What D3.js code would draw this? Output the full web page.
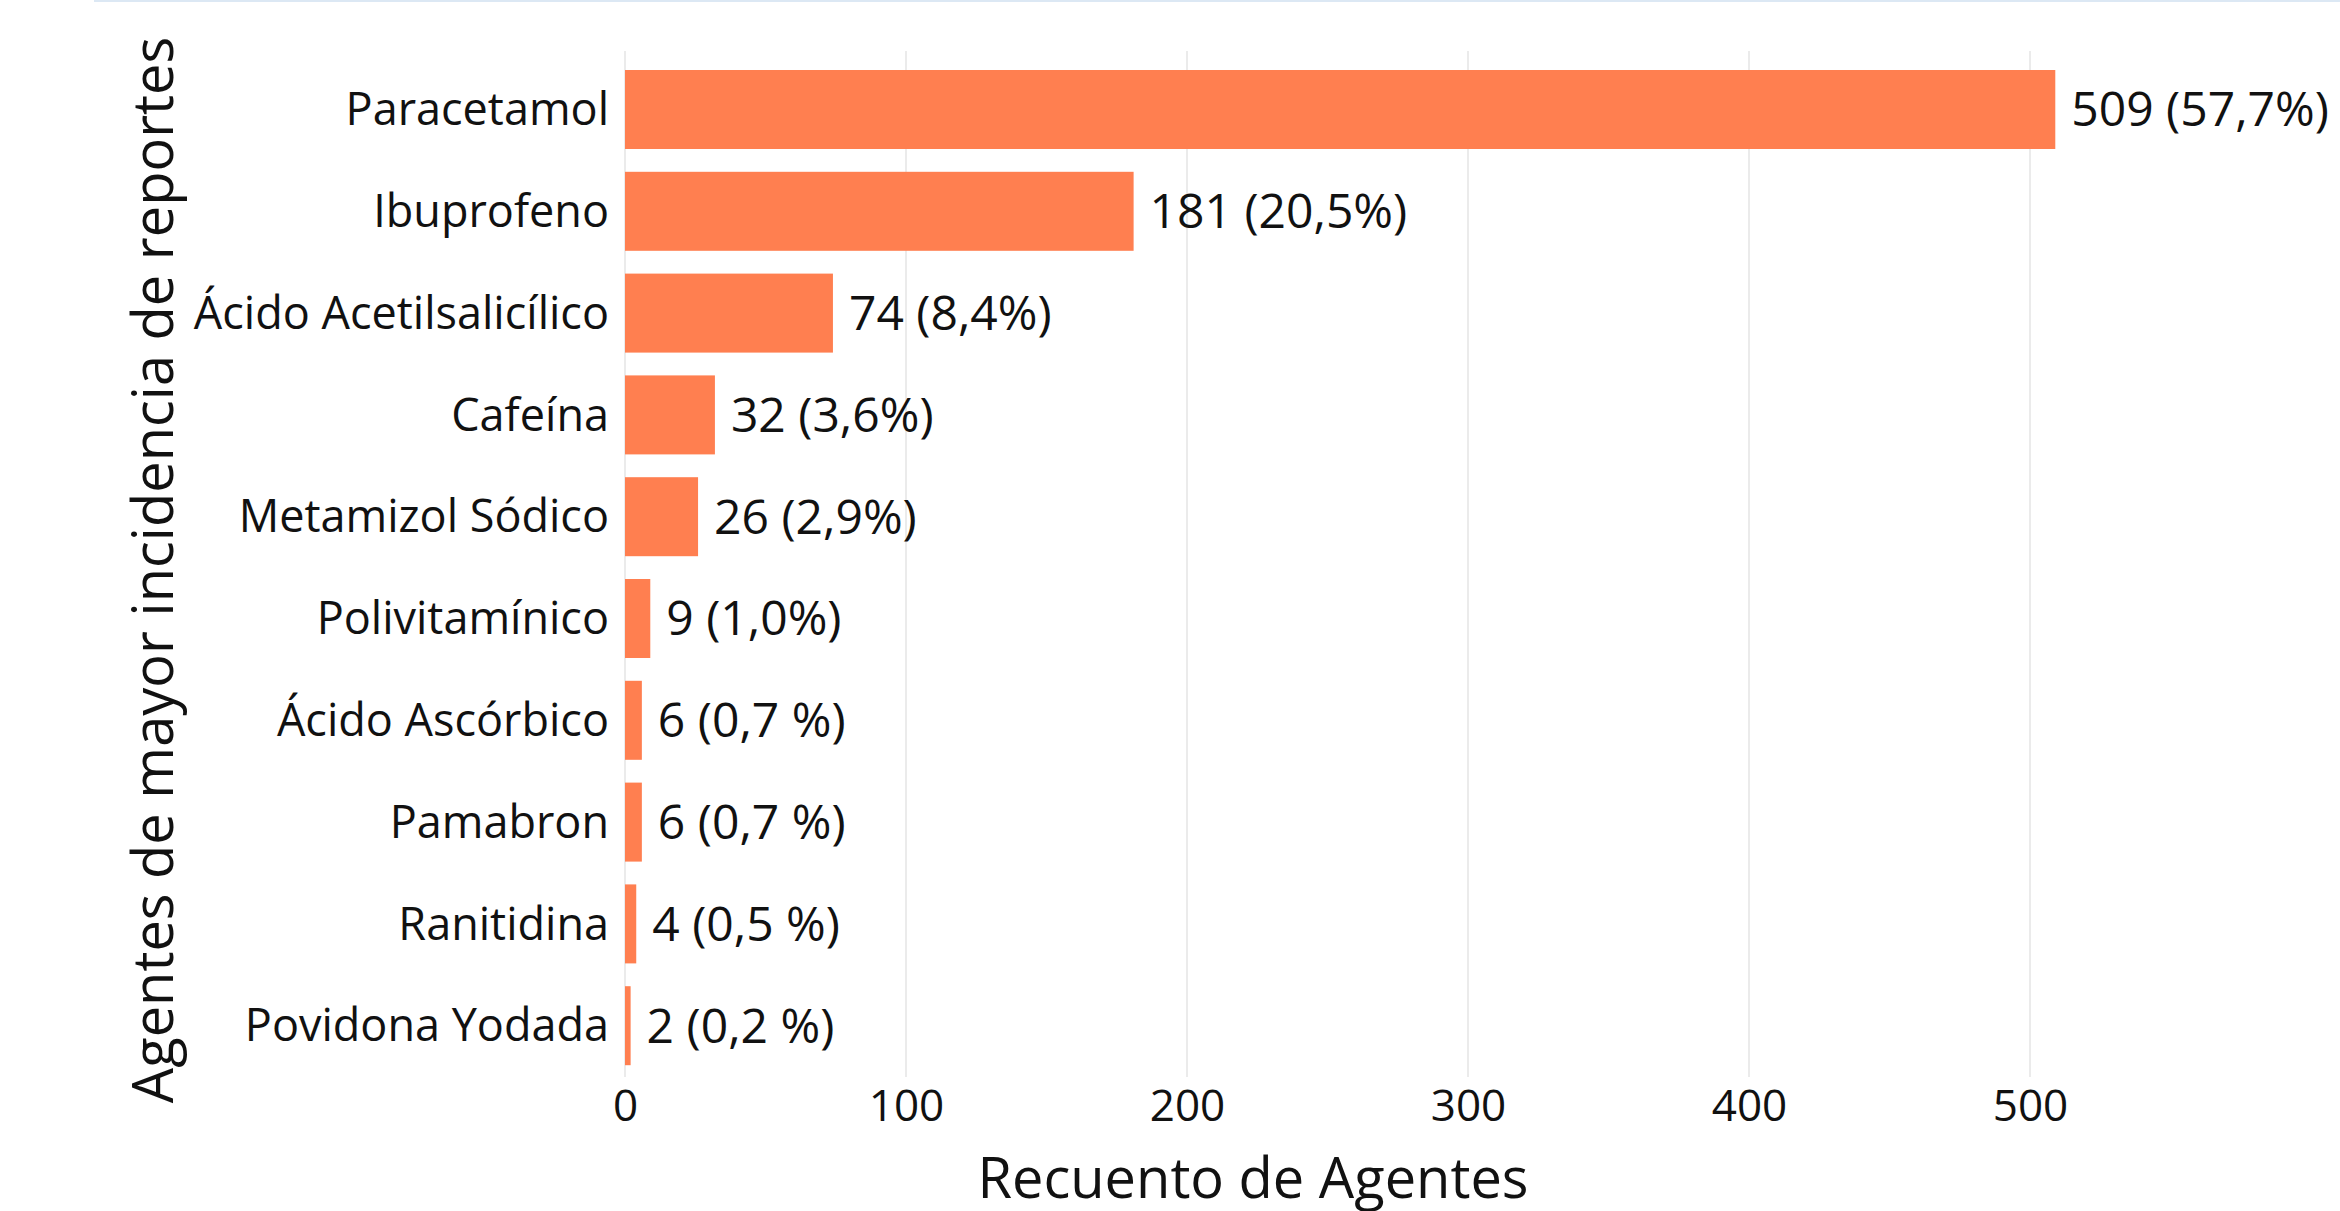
<!DOCTYPE html>
<html>
<head>
<meta charset="utf-8">
<script src="https://cdn.jsdelivr.net/npm/d3@7"></script>
<style>
  body { margin: 0; background: #fff; }
  svg { display: block; }
</style>
</head>
<body>
<div id="chart"></div>
<script>
// data
var agentes = ["Paracetamol", "Ibuprofeno", "Ácido Acetilsalicílico", "Cafeína", "Metamizol Sódico",
               "Polivitamínico", "Ácido Ascórbico", "Pamabron", "Ranitidina", "Povidona Yodada"];
var recuentos = [509, 181, 74, 32, 26, 9, 6, 6, 4, 2];
var etiquetas = ["509 (57,7%)", "181 (20,5%)", "74 (8,4%)", "32 (3,6%)", "26 (2,9%)",
                 "9 (1,0%)", "6 (0,7 %)", "6 (0,7 %)", "4 (0,5 %)", "2 (0,2 %)"];
var ticksX = [0, 100, 200, 300, 400, 500];

var W = 2340, H = 1211;
var font = "'Open Sans', 'Noto Sans', sans-serif";

var data = agentes.map(function(a, i) {
  return { agente: a, n: recuentos[i], label: etiquetas[i] };
});

var svg = d3.select("#chart").append("svg")
  .attr("width", W)
  .attr("height", H);

// thin light line at very top
svg.append("line")
  .attr("x1", 94).attr("x2", W)
  .attr("y1", 1).attr("y2", 1)
  .attr("stroke", "#dce8f4")
  .attr("stroke-width", 2);

var xScale = d3.scaleLinear()
  .domain([0, 500])
  .range([625, 2030]);

var yScale = d3.scaleBand()
  .domain(agentes)
  .range([58.6, 1076.6])
  .paddingInner(0.224)
  .paddingOuter(0.112);

var gridTop = 51, gridBottom = 1077;

// grid
svg.append("g")
  .selectAll("line")
  .data(ticksX)
  .enter().append("line")
    .attr("x1", function(d) { return xScale(d); })
    .attr("x2", function(d) { return xScale(d); })
    .attr("y1", gridTop)
    .attr("y2", gridBottom)
    .attr("stroke", "#ebebeb")
    .attr("stroke-width", 2);

// axis-x (labels only)
var xAxis = svg.append("g")
  .attr("transform", "translate(0," + gridBottom + ")")
  .call(d3.axisBottom(xScale).tickValues(ticksX).tickSize(0).tickPadding(0).tickFormat(d3.format("d")));
xAxis.select(".domain").remove();
xAxis.selectAll("text")
  .attr("y", 44)
  .attr("dy", 0)
  .style("font-family", font)
  .style("font-size", "44px")
  .attr("fill", "#111");

// axis-y (labels only)
var yAxis = svg.append("g")
  .attr("transform", "translate(625,0)")
  .call(d3.axisLeft(yScale).tickSize(0).tickPadding(16));
yAxis.select(".domain").remove();
yAxis.selectAll("text")
  .attr("dy", "0.35em")
  .style("font-family", font)
  .style("font-size", "45px")
  .attr("fill", "#111");

// bars
var bar = svg.append("g")
  .selectAll("g")
  .data(data)
  .enter().append("g");

bar.append("rect")
  .attr("x", xScale(0))
  .attr("y", function(d) { return yScale(d.agente); })
  .attr("width", function(d) { return xScale(d.n) - xScale(0); })
  .attr("height", yScale.bandwidth())
  .style("fill", "#ff7f50");

bar.append("text")
  .attr("x", function(d) { return xScale(d.n) + 16; })
  .attr("y", function(d) { return yScale(d.agente) + yScale.bandwidth() / 2; })
  .attr("dy", "0.35em")
  .style("font-family", font)
  .style("font-size", "48px")
  .attr("fill", "#111")
  .text(function(d) { return d.label; });

// axis titles
svg.append("text")
  .attr("x", 1253)
  .attr("y", 1198)
  .attr("text-anchor", "middle")
  .style("font-family", font)
  .style("font-size", "56px")
  .attr("fill", "#111")
  .text("Recuento de Agentes");

svg.append("text")
  .attr("transform", "translate(173,570) rotate(-90)")
  .attr("text-anchor", "middle")
  .style("font-family", font)
  .style("font-size", "56px")
  .attr("fill", "#111")
  .text("Agentes de mayor incidencia de reportes");
</script>
</body>
</html>
